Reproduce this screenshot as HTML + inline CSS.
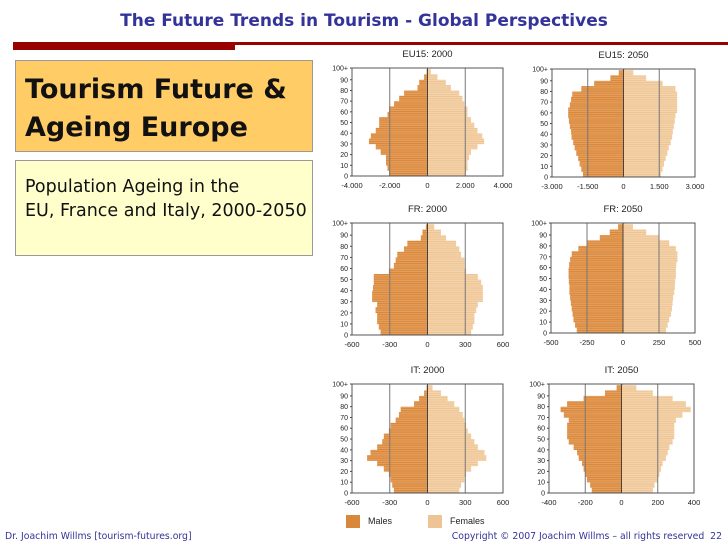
<!DOCTYPE html>
<html><head><meta charset="utf-8"><style>
body{margin:0;width:728px;height:546px;background:#fff;position:relative;overflow:hidden;font-family:"Liberation Sans","DejaVu Sans",sans-serif}
.abs{position:absolute}
</style></head><body>
<div class="abs" style="left:0;width:728px;top:11px;text-align:center;color:#333399;font-weight:bold;font-size:17px;font-family:'DejaVu Sans',sans-serif">The Future Trends in Tourism - Global Perspectives</div>
<div class="abs" style="left:13px;top:42px;width:222px;height:8px;background:#990000"></div>
<div class="abs" style="left:235px;top:42px;width:493px;height:3px;background:#990000"></div>
<div class="abs" style="left:15px;top:60px;width:296px;height:90px;background:#ffcc66;border:1px solid #999"></div>
<div class="abs" style="left:25px;top:71px;font-size:27px;line-height:38px;font-weight:bold;color:#111;font-family:'DejaVu Sans',sans-serif">Tourism Future &amp;<br>Ageing Europe</div>
<div class="abs" style="left:15px;top:160px;width:296px;height:94px;background:#ffffcc;border:1px solid #999"></div>
<div class="abs" style="left:25px;top:175px;font-size:17.5px;line-height:24px;color:#111;font-family:'DejaVu Sans',sans-serif;white-space:nowrap">Population Ageing in the<br>EU, France and Italy, 2000-2050</div>
<div class="abs" style="left:5px;top:531px;font-size:9.3px;color:#333399;font-family:'DejaVu Sans',sans-serif">Dr. Joachim Willms [tourism-futures.org]</div>
<div class="abs" style="right:6px;top:531px;font-size:9.3px;color:#333399;font-family:'DejaVu Sans',sans-serif">Copyright © 2007 Joachim Willms – all rights reserved&nbsp; 22</div>
<svg class="abs" id="chart" style="left:0;top:0" width="728" height="546"></svg>
<script>
const ages=[0,5,10,15,20,25,30,35,40,45,50,55,60,65,70,75,80,85,90,95,100];
const eu00M=[2040,2120,2200,2200,2480,2740,3100,3000,2740,2560,2560,2120,2040,1770,1500,1240,530,440,180,50,10];
const eu00F=[2040,2120,2120,2200,2300,2650,3000,2900,2650,2480,2300,2120,2120,1950,1850,1680,1240,970,530,180,30];
const eu50M=[1700,1770,1840,1900,1980,2050,2110,2180,2200,2250,2290,2320,2320,2250,2200,2150,1770,1230,550,200,30];
const eu50F=[1570,1640,1700,1770,1840,1900,1980,2040,2070,2110,2150,2180,2250,2250,2250,2250,2180,1640,950,410,50];
const fr00M=[373,387,400,400,413,400,440,440,433,427,427,307,267,253,240,187,160,53,40,13,2];
const fr00F=[347,360,373,373,387,400,440,440,440,427,400,307,293,293,267,253,227,147,107,53,5];
const fr50M=[321,333,344,350,356,362,367,372,372,376,378,378,374,367,356,310,252,161,92,34,5];
const fr50F=[298,310,321,333,340,344,348,356,360,362,367,367,370,378,378,367,321,252,161,69,10];
const it00M=[267,280,293,307,347,400,480,453,400,360,347,307,293,253,227,213,107,67,27,8,2];
const it00F=[253,267,293,307,347,400,467,453,400,373,347,320,307,293,280,253,213,160,107,40,5];
const it50M=[164,173,191,200,209,218,236,245,264,291,300,300,300,291,318,336,300,209,91,27,5];
const it50F=[173,182,200,209,218,227,245,255,264,282,291,291,291,300,336,382,355,282,173,82,10];
const yTicks=["0","10","20","30","40","50","60","70","80","90","100+"];
const ticksEU00=["-4.000","-2.000","0","2.000","4.000"], valsEU00=[-4000,-2000,0,2000,4000];
const ticksEU50=["-3.000","-1.500","0","1.500","3.000"], valsEU50=[-3000,-1500,0,1500,3000];
const ticks600=["-600","-300","0","300","600"], vals600=[-600,-300,0,300,600];
const ticks500=["-500","-250","0","250","500"], vals500=[-500,-250,0,250,500];
const ticks400=["-400","-200","0","200","400"], vals400=[-400,-200,0,200,400];
const titles=["EU15: 2000","EU15: 2050","FR: 2000","FR: 2050","IT: 2000","IT: 2050"];
const NS="http://www.w3.org/2000/svg";
const svg=document.getElementById('chart');
function el(tag,attrs,parent){const e=document.createElementNS(NS,tag);for(const k in attrs)e.setAttribute(k,attrs[k]);(parent||svg).appendChild(e);return e;}
function pyramid(id,title,x0,x1,y0,y1,max,tickVals,tickLabels,M,F){
  const g=el('g',{});
  
  
  const cx=(x0+x1)/2;
  const xs=v=>cx+v/max*(x1-x0)/2;
  const ys=a=>y1-a/101*(y1-y0);
  const t=el('text',{x:cx,y:y0-11,'text-anchor':'middle','font-size':'9.5','fill':'#222'},g);t.textContent=title;
  
  
  for(let i=0;i<ages.length;i++){
    const span=i<ages.length-1?5:1;
    for(let k=0;k<span;k++){
      const a=ages[i]+k, ya=ys(a+1), h=ys(a)-ys(a+1);
      const m=el('rect',{x:xs(-M[i]),y:ya,width:cx-xs(-M[i]),height:h+0.2,fill:(a%2?'#e49d5a':'#d9883b')},g);
      
      
      const f=el('rect',{x:cx,y:ya,width:xs(F[i])-cx,height:h+0.2,fill:(a%2?'#f4d4ab':'#eec495')},g);
      
      
    }
  }
  tickVals.forEach((v,j)=>{
    const x=xs(v);
    el('line',{x1:x,x2:x,y1:y0,y2:y1,stroke:v===0?'#444':'#777','stroke-width':1},g);
    const tl=el('text',{x:x,y:y1+12,'text-anchor':'middle','font-size':'7.5','fill':'#222'},g);tl.textContent=tickLabels[j];
    
    
  });
  yTicks.forEach((lab,j)=>{
    const y=ys(j*10+(j===10?1:0));
    const yl=el('text',{x:x0-4,y:y+2.5,'text-anchor':'end','font-size':'7','fill':'#222'},g);yl.textContent=lab;
    
    
    el('line',{x1:x0-2,x2:x0,y1:y,y2:y,stroke:'#444'},g);
  });
  el('rect',{x:x0,y:y0,width:x1-x0,height:y1-y0,fill:'none',stroke:'#555','stroke-width':1},g);
}
pyramid('pyramid-eu15-2000',titles[0],352,503,68,176,4000,valsEU00,ticksEU00,eu00M,eu00F);
pyramid('pyramid-eu15-2050',titles[1],552,695,69,177,3000,valsEU50,ticksEU50,eu50M,eu50F);
pyramid('pyramid-fr-2000',titles[2],352,503,223,335,600,vals600,ticks600,fr00M,fr00F);
pyramid('pyramid-fr-2050',titles[3],551,695,223,333,500,vals500,ticks500,fr50M,fr50F);
pyramid('pyramid-it-2000',titles[4],352,503,384,493,600,vals600,ticks600,it00M,it00F);
pyramid('pyramid-it-2050',titles[5],549,694,384,493,400,vals400,ticks400,it50M,it50F);
</script>
<div class="abs" style="left:346px;top:515px;width:14px;height:13px;background:#d9883b"></div>
<div class="abs" style="left:368px;top:516px;font-size:9px;color:#222">Males</div>
<div class="abs" style="left:428px;top:515px;width:14px;height:13px;background:#eec495"></div>
<div class="abs" style="left:450px;top:516px;font-size:9px;color:#222">Females</div>
</body></html>
